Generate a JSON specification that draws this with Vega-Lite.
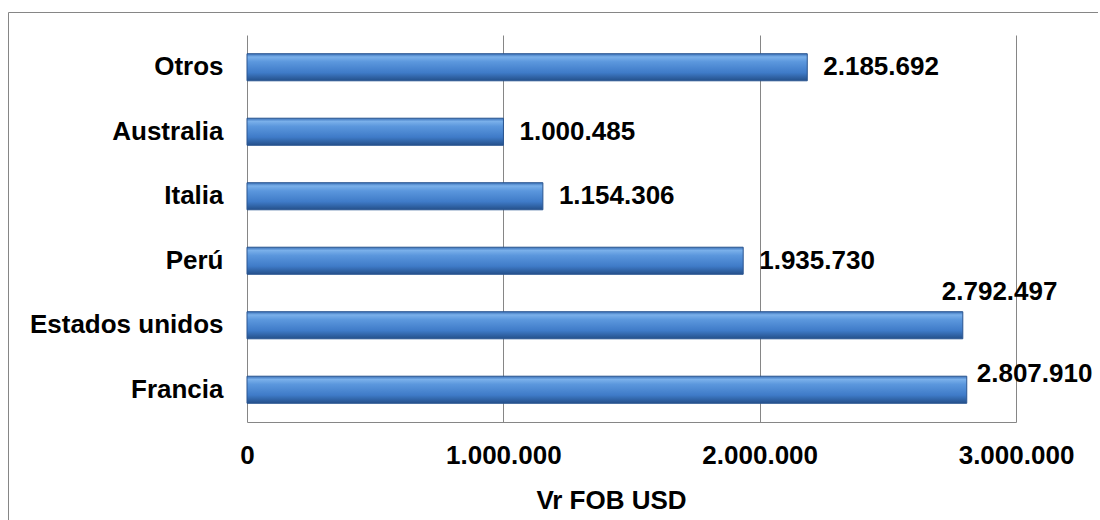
{
  "$schema": "https://vega.github.io/schema/vega-lite/v6.json",
  "width": 1090,
  "height": 520,
  "autosize": {"type": "none"},
  "padding": {"left": 8, "top": 12, "right": 0, "bottom": 0},
  "background": "white",
  "config": {
    "view": {"stroke": "#868686", "strokeWidth": 1},
    "font": "Liberation Sans",
    "locale": {"number": {"decimal": ",", "thousands": ".", "grouping": [3], "currency": ["$", ""]}}
  },
  "data": {
    "values": [
      {"pais": "Otros", "valor": 2185692},
      {"pais": "Australia", "valor": 1000485},
      {"pais": "Italia", "valor": 1154306},
      {"pais": "Perú", "valor": 1935730},
      {"pais": "Estados unidos", "valor": 2792497},
      {"pais": "Francia", "valor": 2807910}
    ]
  },
  "resolve": {"axis": {"x": "independent"}},
  "encoding": {
    "y": {
      "field": "pais",
      "type": "nominal",
      "sort": ["Otros", "Australia", "Italia", "Perú", "Estados unidos", "Francia"],
      "scale": {"range": [23, 410], "paddingInner": 0.58, "paddingOuter": 0.29},
      "axis": {
        "title": null,
        "offset": -239,
        "ticks": false,
        "tickSize": 0,
        "domainColor": "#868686",
        "domainWidth": 1,
        "labelFont": "Liberation Sans",
        "labelFontSize": 26,
        "labelFontWeight": "bold",
        "labelColor": "#000000",
        "labelPadding": 24,
        "labelBaseline": "middle",
        "labelLimit": 400
      }
    }
  },
  "layer": [
    {
      "mark": {"type": "bar", "opacity": 0},
      "encoding": {
        "x": {
          "field": "valor",
          "type": "quantitative",
          "scale": {"domain": [0, 3000000], "range": [239, 1008], "nice": false},
          "axis": {
            "orient": "top",
            "values": [1000000, 2000000, 3000000],
            "grid": true,
            "gridColor": "#868686",
            "gridWidth": 1,
            "domain": false,
            "ticks": false,
            "labels": false,
            "title": null,
            "offset": 0
          }
        }
      }
    },
    {
      "mark": {
        "type": "bar",
        "stroke": "#2a5590",
        "strokeWidth": 1,
        "fill": {
          "gradient": "linear",
          "x1": 0, "y1": 0, "x2": 0, "y2": 1,
          "stops": [
            {"offset": 0, "color": "#3a70b8"},
            {"offset": 0.12, "color": "#7ab0ea"},
            {"offset": 0.3, "color": "#5b97dd"},
            {"offset": 0.7, "color": "#3f7bc8"},
            {"offset": 1, "color": "#24508a"}
          ]
        }
      },
      "encoding": {
        "x": {
          "field": "valor",
          "type": "quantitative",
          "axis": {
            "orient": "bottom",
            "values": [0, 1000000, 2000000, 3000000],
            "format": ",d",
            "offset": -110,
            "ticks": false,
            "tickSize": 0,
            "grid": false,
            "domainColor": "#868686",
            "domainWidth": 1,
            "labelFont": "Liberation Sans",
            "labelFontSize": 26,
            "labelFontWeight": "bold",
            "labelColor": "#000000",
            "labelPadding": 41,
            "labelBaseline": "alphabetic",
            "labelAlign": "center",
            "labelFlush": false,
            "title": "Vr FOB USD",
            "titleFont": "Liberation Sans",
            "titleFontSize": 26,
            "titleFontWeight": "bold",
            "titleColor": "#000000",
            "titleBaseline": "alphabetic",
            "titleX": 603,
            "titleY": 86,
            "titleAnchor": "start",
            "titleAlign": "center"
          }
        }
      }
    },
    {
      "transform": [{"filter": "datum.pais !== 'Estados unidos' && datum.pais !== 'Francia'"}],
      "mark": {"type": "text", "align": "left", "baseline": "middle", "dx": 16, "fontSize": 26, "fontWeight": "bold", "font": "Liberation Sans", "color": "#000000"},
      "encoding": {
        "x": {"field": "valor", "type": "quantitative", "axis": null},
        "text": {"field": "valor", "type": "quantitative", "format": ",d"}
      }
    },
    {
      "transform": [{"filter": "datum.pais === 'Estados unidos'"}],
      "mark": {"type": "text", "align": "left", "baseline": "middle", "dx": -21, "dy": -33, "fontSize": 26, "fontWeight": "bold", "font": "Liberation Sans", "color": "#000000"},
      "encoding": {
        "x": {"field": "valor", "type": "quantitative", "axis": null},
        "text": {"field": "valor", "type": "quantitative", "format": ",d"}
      }
    },
    {
      "transform": [{"filter": "datum.pais === 'Francia'"}],
      "mark": {"type": "text", "align": "left", "baseline": "middle", "dx": 10, "dy": -16, "fontSize": 26, "fontWeight": "bold", "font": "Liberation Sans", "color": "#000000"},
      "encoding": {
        "x": {"field": "valor", "type": "quantitative", "axis": null},
        "text": {"field": "valor", "type": "quantitative", "format": ",d"}
      }
    }
  ]
}
